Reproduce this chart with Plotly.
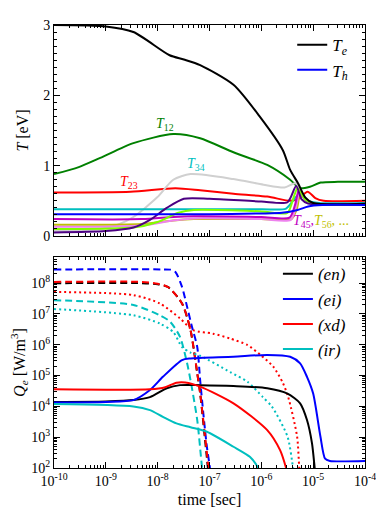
import plotly.graph_objects as go
from plotly.subplots import make_subplots

# ---------- top panel: temperatures [eV] vs time [s]
te_t = [1e-10, 1e-9, 3.4e-9, 1.7e-8, 3.2e-8, 6.6e-8, 2.9e-7, 9.5e-7, 2.6e-6, 3.6e-6, 5.1e-6, 7e-6, 1e-5, 1e-4]
te_T = [3.0, 2.98, 2.90, 2.57, 2.51, 2.43, 2.15, 1.69, 1.22, 0.94, 0.75, 0.55, 0.47, 0.46]

th_t = [1e-10, 1e-7, 1e-6, 2.5e-6, 5e-6, 8e-6, 1.5e-5, 1e-4]
th_T = [0.31, 0.31, 0.32, 0.33, 0.37, 0.42, 0.44, 0.44]

t12_t = [1e-10, 3e-10, 7.8e-10, 3.4e-9, 2.0e-8, 6.6e-8, 2.9e-7, 1.3e-6, 3.6e-6, 5.5e-6, 8.7e-6, 1.4e-5, 3e-5, 1e-4]
t12_T = [0.88, 0.98, 1.11, 1.32, 1.45, 1.39, 1.19, 1.01, 0.80, 0.68, 0.70, 0.76, 0.77, 0.77]

t23_t = [1e-10, 3e-9, 2.2e-8, 6.6e-8, 2.9e-7, 1.3e-6, 3.6e-6, 5e-6, 7.8e-6, 1.1e-5, 1.6e-5, 1e-4]
t23_T = [0.62, 0.63, 0.68, 0.65, 0.60, 0.56, 0.50, 0.52, 0.63, 0.54, 0.50, 0.50]

grey_t = [1e-10, 7.8e-10, 1.7e-9, 3.4e-9, 9.8e-9, 2.0e-8, 4.3e-8, 2.9e-7, 1.1e-6, 2.8e-6, 4.6e-6, 7e-6, 1.2e-5, 1e-4]
grey_T = [0.07, 0.10, 0.16, 0.27, 0.55, 0.80, 0.88, 0.81, 0.73, 0.69, 0.75, 0.50, 0.45, 0.45]

indigo_t = [1e-10, 1e-9, 3.4e-9, 7.1e-9, 1.5e-8, 3.2e-8, 1e-7, 1e-6, 3.2e-6, 4.7e-6, 6e-6, 8e-6, 1.5e-5, 1e-4]
indigo_T = [0.05, 0.07, 0.12, 0.23, 0.40, 0.53, 0.53, 0.49, 0.48, 0.71, 0.52, 0.46, 0.45, 0.45]

cyan_t = [1e-10, 1e-6, 3e-6, 4.6e-6, 6e-6, 8e-6, 1.3e-5, 1e-4]
cyan_T = [0.38, 0.38, 0.39, 0.55, 0.60, 0.50, 0.47, 0.47]

lime_t = [1e-10, 3.4e-9, 1e-8, 2.5e-8, 5e-8, 1e-6, 3.2e-6, 4.2e-6, 5e-6, 7e-6, 1.2e-5, 1e-4]
lime_T = [0.10, 0.12, 0.20, 0.33, 0.37, 0.35, 0.33, 0.55, 0.68, 0.52, 0.45, 0.45]

mag_t = [1e-10, 5e-9, 2e-8, 5e-8, 1e-6, 3.5e-6, 4.5e-6, 5.3e-6, 7e-6, 1.2e-5, 1e-4]
mag_T = [0.24, 0.24, 0.27, 0.28, 0.27, 0.26, 0.45, 0.65, 0.52, 0.45, 0.45]

violet_t = [1e-10, 5e-9, 2e-8, 5e-8, 1e-6, 3.7e-6, 4.7e-6, 5.5e-6, 7.2e-6, 1.2e-5, 1e-4]
violet_T = [0.13, 0.15, 0.22, 0.25, 0.24, 0.23, 0.42, 0.63, 0.52, 0.45, 0.45]

olive_t = [1e-10, 5e-9, 2e-8, 5e-8, 1e-6, 3.8e-6, 4.9e-6, 5.7e-6, 7.4e-6, 1.2e-5, 1e-4]
olive_T = [0.16, 0.17, 0.22, 0.24, 0.24, 0.24, 0.40, 0.62, 0.52, 0.45, 0.45]

# ---------- bottom panel: Q_e [W/m^3] vs time [s]
en_t = [1e-10, 1e-9, 3.4e-9, 7.1e-9, 1.5e-8, 2.7e-8, 6.6e-8, 2.9e-7, 1.3e-6, 3.2e-6, 5.6e-6, 7.6e-6, 9.5e-6, 1.07e-5, 1.15e-5]
en_Q = [1.4e4, 1.45e4, 1.6e4, 2.0e4, 3.9e4, 4.9e4, 4.9e4, 4.6e4, 3.9e4, 2.6e4, 1.26e4, 3.6e3, 6.3e2, 1e2, 3e1]

ei_t = [1e-10, 1e-9, 3.4e-9, 7.1e-9, 1.26e-8, 2.95e-8, 4.3e-8, 2.9e-7, 1.3e-6, 3.6e-6, 5.6e-6, 7.6e-6, 1.0e-5, 1.38e-5, 1.7e-5, 2.1e-5, 1e-4]
ei_Q = [1.35e4, 1.4e4, 1.6e4, 3.4e4, 9.1e4, 3.2e5, 3.6e5, 4.1e5, 4.7e5, 4.1e5, 2.5e5, 9.1e4, 2.6e4, 1.05e3, 2.0e2, 1.7e2, 1.7e2]

xd_t = [1e-10, 7.1e-9, 1.4e-8, 2.3e-8, 3.4e-8, 6.6e-8, 2.9e-7, 1.3e-6, 2.3e-6, 3.0e-6, 3.4e-6]
xd_Q = [3.6e4, 3.6e4, 4.2e4, 5.9e4, 6.0e4, 4.4e4, 1.26e4, 1.7e3, 3.8e2, 1e2, 4e1]

ir_t = [1e-10, 3.4e-9, 7.1e-9, 1.26e-8, 2.3e-8, 4.3e-8, 8.9e-8, 2.9e-7, 6.0e-7, 8.7e-7, 1.0e-6]
ir_Q = [1.2e4, 1.0e4, 7.6e3, 4.6e3, 2.8e3, 2.1e3, 1.5e3, 4.9e2, 2.3e2, 1e2, 5e1]

ei_dash_t = [1e-10, 1.2e-8, 1.74e-8, 2.2e-8, 2.95e-8, 3.7e-8, 4.6e-8, 5.8e-8, 6.6e-8, 7.6e-8, 8.9e-8, 1.02e-7, 1.08e-7]
ei_dash_Q = [2.8e8, 2.8e8, 2.75e8, 2.3e8, 7.6e7, 1.7e7, 3.8e6, 8.5e5, 7.1e4, 6e3, 4.9e2, 1e2, 4e1]

en_dash_t = [1e-10, 5e-9, 1.0e-8, 1.6e-8, 2.95e-8, 4.3e-8, 5.8e-8, 6.6e-8, 8.7e-8, 9.3e-8, 9.8e-8]
en_dash_Q = [1.0e8, 1.0e8, 9.3e7, 7.4e7, 2.2e7, 3.0e6, 1.2e5, 2.7e4, 3.1e2, 1e2, 4e1]

xd_dash_t = [1e-10, 5e-9, 1.0e-8, 1.6e-8, 2.95e-8, 4.3e-8, 5.8e-8, 6.6e-8, 8.9e-8, 9.5e-8, 1.0e-7]
xd_dash_Q = [1.1e8, 1.1e8, 9.6e7, 7.4e7, 2.2e7, 3.0e6, 1.2e5, 2.7e4, 3.1e2, 1e2, 4e1]

ir_dash_t = [1e-10, 3.4e-9, 1.1e-8, 1.74e-8, 2.7e-8, 3.7e-8, 4.3e-8, 5.8e-8, 7.2e-8, 7.8e-8]
ir_dash_Q = [2.8e7, 1.95e7, 9.1e6, 5.6e6, 1.8e6, 2.5e5, 7.1e4, 3.6e3, 1e2, 4e1]

xd_dot_t = [1e-10, 3.4e-9, 1.1e-8, 2.7e-8, 4.8e-8, 1.17e-7, 2.5e-7, 5.4e-7, 9.6e-7, 1.7e-6, 2.6e-6, 3.3e-6, 4.9e-6, 5.4e-6, 5.8e-6]
xd_dot_Q = [5.2e7, 4.1e7, 2.2e7, 7.2e6, 3.0e6, 2.3e6, 1.6e6, 9.8e5, 4.7e5, 1.95e5, 5.8e4, 2.0e4, 1.05e3, 1e2, 4e1]

ir_dot_t = [1e-10, 3.4e-9, 1.1e-8, 2.0e-8, 2.95e-8, 4.3e-8, 6.6e-8, 2.5e-7, 5.4e-7, 1.07e-6, 1.6e-6, 3.2e-6, 4.1e-6, 4.5e-6]
ir_dot_Q = [1.45e7, 9.1e6, 4.9e6, 2.6e6, 8.5e5, 5.6e5, 4.4e5, 1.3e5, 6.3e4, 2.0e4, 9.8e3, 1.05e3, 1e2, 4e1]

FONT = "Liberation Serif"
GREEN, RED, BLUE, CYAN = "#008000", "#ff0000", "#0000ff", "#00bfbf"
MAG, OLIVE = "#bf00bf", "#bfbf00"

fig = make_subplots(rows=2, cols=1, shared_xaxes=False, vertical_spacing=0.0474)


def line(x, y, color, row, name=None, dash="solid", legend=None, width=2):
    fig.add_trace(go.Scatter(x=x, y=y, mode="lines", name=name, showlegend=name is not None,
                             legend=legend, line=dict(color=color, width=width, dash=dash,
                                                      shape="spline", smoothing=0.7)),
                  row=row, col=1)


# top panel
line(t12_t, t12_T, GREEN, 1)
line(t23_t, t23_T, RED, 1)
line(grey_t, grey_T, "#d0d0d0", 1)
line(cyan_t, cyan_T, CYAN, 1)
line(olive_t, olive_T, OLIVE, 1)
line(violet_t, violet_T, "#ee82ee", 1)
line(mag_t, mag_T, MAG, 1)
line(lime_t, lime_T, "#7fff00", 1)
line(indigo_t, indigo_T, "#4b0082", 1)
line(te_t, te_T, "black", 1, name="<i>T<sub>e</sub></i>", legend="legend")
line(th_t, th_T, BLUE, 1, name="<i>T<sub>h</sub></i>", legend="legend")

# bottom panel
DASH, DOT = "7px,4px", "2px,3px"
line(ei_dash_t, ei_dash_Q, BLUE, 2, dash=DASH)
line(en_dash_t, en_dash_Q, "black", 2, dash=DASH)
line(xd_dash_t, xd_dash_Q, RED, 2, dash=DASH)
line(ir_dash_t, ir_dash_Q, CYAN, 2, dash=DASH)
line(xd_dot_t, xd_dot_Q, RED, 2, dash=DOT)
line(ir_dot_t, ir_dot_Q, CYAN, 2, dash=DOT)
line(en_t, en_Q, "black", 2, name="<i>(en)</i>", legend="legend2")
line(ei_t, ei_Q, BLUE, 2, name="<i>(ei)</i>", legend="legend2")
line(xd_t, xd_Q, RED, 2, name="<i>(xd)</i>", legend="legend2")
line(ir_t, ir_Q, CYAN, 2, name="<i>(ir)</i>", legend="legend2")

labels = [
    ("<i>T</i><sub>12</sub>", -7.86, 1.58, GREEN, "center"),
    ("<i>T</i><sub>34</sub>", -7.26, 1.01, CYAN, "center"),
    ("<i>T</i><sub>23</sub>", -8.55, 0.76, RED, "center"),
    ("<i>T</i><sub>45</sub>,", -5.42, 0.20, MAG, "left"),
    ("<i>T</i><sub>56</sub>, ...", -5.02, 0.20, OLIVE, "left"),
]
for txt, lx, ly, col, anchor in labels:
    fig.add_annotation(text=txt, x=lx, y=ly, xref="x", yref="y", showarrow=False,
                       xanchor=anchor, font=dict(family=FONT, size=14, color=col))

decades = range(-10, -4)
x_minor = [k * 10.0 ** e for e in decades for k in range(2, 10)]
y_minor = [k * 10.0 ** e for e in range(2, 9) for k in range(2, 10)]

axis_style = dict(showline=True, linecolor="black", linewidth=1, mirror="allticks", ticks="inside",
                  ticklen=6, tickcolor="black", showgrid=False, zeroline=False, automargin=False,
                  tickfont=dict(family=FONT, size=14, color="black"))

x_ticks = [10.0 ** e for e in range(-10, -3)]
x_text = ["10<sup>%d</sup>" % e for e in range(-10, -3)]
fig.update_xaxes(type="log", range=[-10, -4], tickvals=x_ticks, ticktext=x_text,
                 minor=dict(tickvals=x_minor, ticks="inside", ticklen=3, tickcolor="black"), **axis_style)
fig.update_xaxes(showticklabels=False, row=1, col=1)
fig.update_xaxes(title=dict(text="time [sec]", font=dict(family=FONT, size=16, color="black"), standoff=6),
                 row=2, col=1)

fig.update_yaxes(range=[0, 3], tickvals=[0, 1, 2, 3], row=1, col=1,
                 minor=dict(dtick=0.1, tick0=0, ticks="inside", ticklen=3, tickcolor="black"),
                 title=dict(text="<i>T</i> [eV]", font=dict(family=FONT, size=16, color="black"), standoff=10),
                 **axis_style)
y_ticks = [10.0 ** e for e in range(2, 9)]
y_text = ["10<sup>%d</sup>" % e for e in range(2, 9)]
fig.update_yaxes(type="log", range=[2, 8.85], tickvals=y_ticks, ticktext=y_text, row=2, col=1,
                 minor=dict(tickvals=y_minor, ticks="inside", ticklen=3, tickcolor="black"),
                 title=dict(text="<i>Q<sub>e</sub></i> [W/m<sup>3</sup>]", font=dict(family=FONT, size=16, color="black"), standoff=4),
                 **axis_style)
fig.update_yaxes(domain=[0.5237, 1.0], row=1, col=1)
fig.update_yaxes(domain=[0.0, 0.4763], row=2, col=1)

legend_style = dict(bgcolor="rgba(0,0,0,0)", borderwidth=0, font=dict(family=FONT, size=17, color="black"),
                    xanchor="left", yanchor="top", itemwidth=30, tracegroupgap=0)
# the page body has an 8px margin, so the figure is drawn 8px smaller with shifted margins
fig.update_layout(
    width=376, height=512,
    margin=dict(l=46, r=19, t=17, b=52, autoexpand=False),
    paper_bgcolor="white", plot_bgcolor="white",
    legend=dict(x=0.766, y=0.995, **legend_style),
    legend2=dict(x=0.72, y=0.478, **legend_style),
)

fig.write_html("out.html")
